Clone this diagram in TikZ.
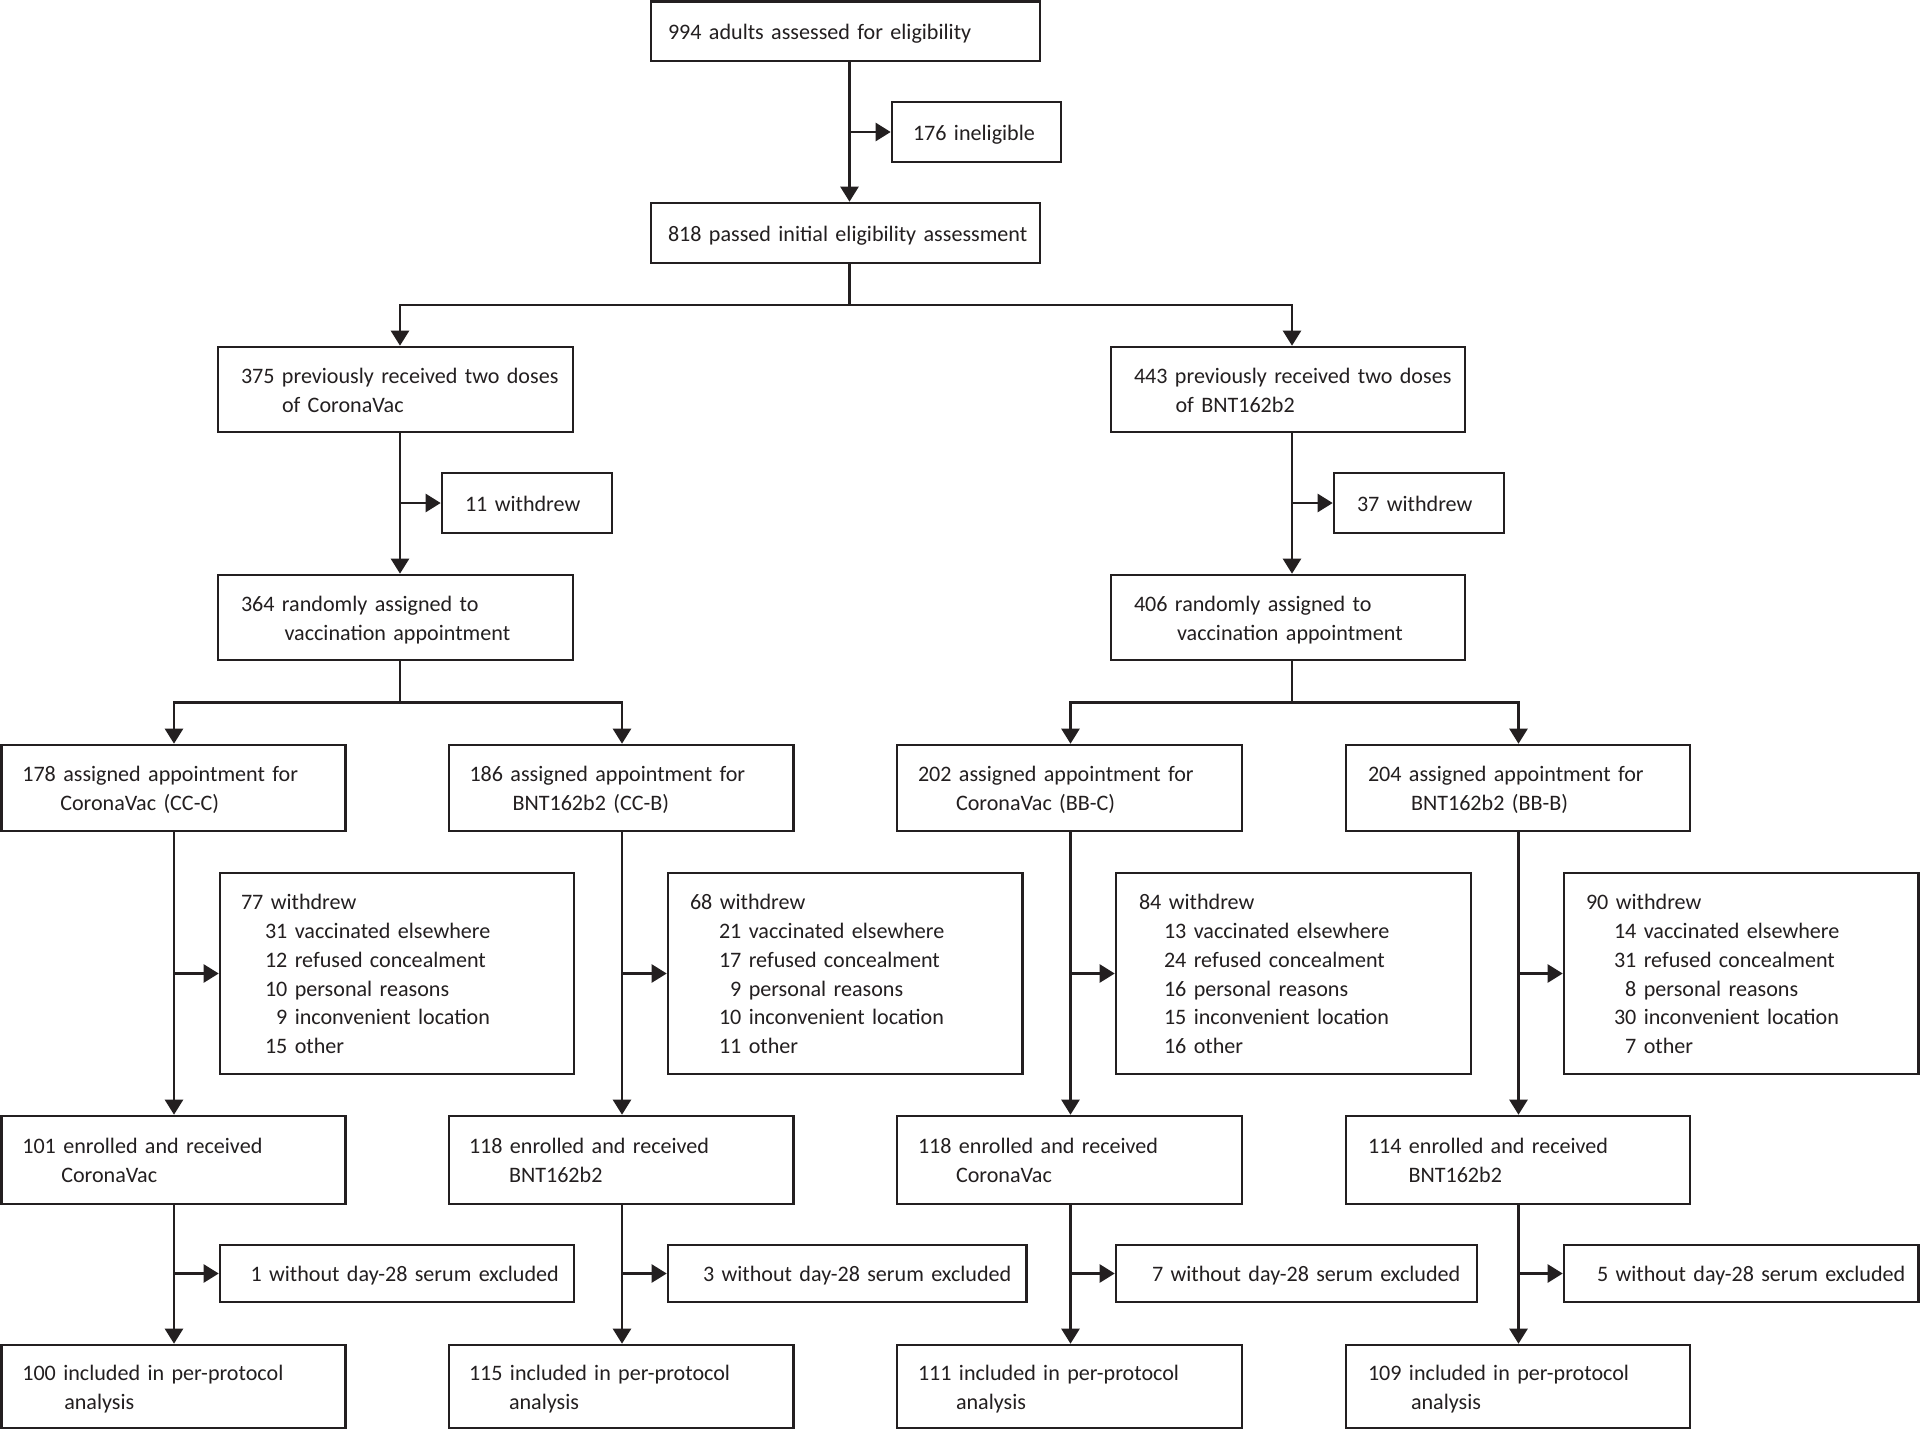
\documentclass[tikz,border=0pt]{standalone}
\usepackage{fontspec}
\setmainfont[WordSpace=0.65]{Carlito}
\usetikzlibrary{arrows.meta}
\definecolor{ink}{RGB}{35,31,32}
\newcommand{\Ln}[2][0]{\hspace*{#1pt}\mbox{\rule[-6.15pt]{0pt}{28.8pt}#2}}
\tikzset{
  bx/.style={draw=ink, line width=2.6pt, inner ysep=0pt, align=left,
    font=\fontsize{22.1}{28.8}\selectfont, text=ink},
  cell/.style n args={5}{bx, at={({(#1+#2)/2},{(#3+#4)/2})},
    minimum width={#2-#1}, minimum height={#4-#3},
    inner xsep={#5}, text width={#2-#1-2*(#5)}},
  arr/.style={draw=ink, line width=2.4pt, -{Triangle[length=15pt,width=18pt]}},
  ln/.style={draw=ink, line width=2.4pt},
}
\begin{document}
\begin{tikzpicture}[x=1pt,y=-1pt]
\fill[white] (0,0) rectangle (1920,1430);
\useasboundingbox (0,0) rectangle (1920,1430);

% top part
\node[cell={651}{1040}{1.5}{61}{17}] (b994) {\Ln{994 adults assessed for eligibility}};
\node[cell={892}{1061}{102}{162}{21}] (b176) {\Ln{176 ineligible}};
\node[cell={651}{1040}{203}{263}{17}] (b818) {\Ln{818 passed initial eligibility assessment}};

\node[cell={218}{573}{347}{432}{23}] (b375) {\Ln{375 previously received two doses}\\\Ln[41]{of CoronaVac}};
\node[cell={1111}{1465}{347}{432}{23}] (b443) {\Ln{443 previously received two doses}\\\Ln[41.5]{of BNT162b2}};
\node[cell={442}{612}{473}{533}{23}] (b11) {\Ln{11 withdrew}};
\node[cell={1334}{1504}{473}{533}{23}] (b37) {\Ln{37 withdrew}};
\node[cell={218}{573}{575}{660}{23}] (b364) {\Ln{364 randomly assigned to}\\\Ln[43.5]{vaccination appointment}};
\node[cell={1111}{1465}{575}{660}{23}] (b406) {\Ln{406 randomly assigned to}\\\Ln[43]{vaccination appointment}};

% level 4
\node[cell={1.3}{345.6}{745}{831}{21}] (b178) {\Ln{178 assigned appointment for}\\\Ln[38]{CoronaVac (CC-C)}};
\node[cell={449}{793.6}{745}{831}{20.5}] (b186) {\Ln{186 assigned appointment for}\\\Ln[43]{BNT162b2 (CC-B)}};
\node[cell={897}{1242}{745}{831}{21}] (b202) {\Ln{202 assigned appointment for}\\\Ln[38]{CoronaVac (BB-C)}};
\node[cell={1346}{1690}{745}{831}{22}] (b204) {\Ln{204 assigned appointment for}\\\Ln[43]{BNT162b2 (BB-B)}};

% withdrew lists
\node[cell={220}{574}{873}{1074}{21}] (w77) {\Ln{77 withdrew}\\\Ln[24]{31 vaccinated elsewhere}\\\Ln[24]{12 refused concealment}\\\Ln[24]{10 personal reasons}\\\Ln[24]{\hphantom{0}9 inconvenient location}\\\Ln[24]{15 other}};
\node[cell={668}{1022.6}{873}{1074}{22}] (w68) {\Ln{68 withdrew}\\\Ln[29]{21 vaccinated elsewhere}\\\Ln[29]{17 refused concealment}\\\Ln[29]{\hphantom{0}9 personal reasons}\\\Ln[29]{10 inconvenient location}\\\Ln[29]{11 other}};
\node[cell={1116}{1471}{873}{1074}{23}] (w84) {\Ln{84 withdrew}\\\Ln[25]{13 vaccinated elsewhere}\\\Ln[25]{24 refused concealment}\\\Ln[25]{16 personal reasons}\\\Ln[25]{15 inconvenient location}\\\Ln[25]{16 other}};
\node[cell={1564}{1918.5}{873}{1074}{22}] (w90) {\Ln{90 withdrew}\\\Ln[28]{14 vaccinated elsewhere}\\\Ln[28]{31 refused concealment}\\\Ln[28]{\hphantom{0}8 personal reasons}\\\Ln[28]{30 inconvenient location}\\\Ln[28]{\hphantom{0}7 other}};

% enrolled
\node[cell={1.3}{345.6}{1116}{1204}{21}] (e101) {\Ln{101 enrolled and received}\\\Ln[39]{CoronaVac}};
\node[cell={449}{793.6}{1116}{1204}{20}] (e118a) {\Ln{118 enrolled and received}\\\Ln[40]{BNT162b2}};
\node[cell={897}{1242}{1116}{1204}{21}] (e118b) {\Ln{118 enrolled and received}\\\Ln[38]{CoronaVac}};
\node[cell={1346}{1690}{1116}{1204}{22}] (e114) {\Ln{114 enrolled and received}\\\Ln[40.5]{BNT162b2}};

% excluded
\node[cell={220}{574}{1245}{1302}{30.5}] (x1) {\Ln{1 without day-28 serum excluded}};
\node[cell={668}{1026.5}{1245}{1302}{35}] (x3) {\Ln{3 without day-28 serum excluded}};
\node[cell={1116}{1477}{1245}{1302}{36}] (x7) {\Ln{7 without day-28 serum excluded}};
\node[cell={1564}{1918.6}{1245}{1302}{33}] (x5) {\Ln{5 without day-28 serum excluded}};

% final
\node[cell={1.3}{345.6}{1345}{1428}{21}] (f100) {\Ln{100 included in per-protocol}\\\Ln[42]{analysis}};
\node[cell={449}{793.6}{1345}{1428}{20}] (f115) {\Ln{115 included in per-protocol}\\\Ln[40]{analysis}};
\node[cell={897}{1242}{1345}{1428}{21}] (f111) {\Ln{111 included in per-protocol}\\\Ln[38]{analysis}};
\node[cell={1346}{1690}{1345}{1428}{22}] (f109) {\Ln{109 included in per-protocol}\\\Ln[43]{analysis}};

% routing coordinates
\coordinate (c0) at (849.5,305);
\coordinate (cL) at (400,702.5);
\coordinate (cR) at (1292,702.5);
\coordinate (k1) at (174,0);
\coordinate (k2) at (622,0);
\coordinate (k3) at (1070.5,0);
\coordinate (k4) at (1518.5,0);

% connectors
\draw[arr] (b994.south -| c0) -- (b818.north -| c0);
\draw[arr] (c0 |- b176.west) -- (b176.west);
\draw[ln] (b818.south -| c0) -- (c0);
\draw[arr] (c0) -| (b375.north -| cL);
\draw[arr] (c0) -| (b443.north -| cR);

\draw[arr] (b375.south -| cL) -- (b364.north -| cL);
\draw[arr] (cL |- b11.west) -- (b11.west);
\draw[arr] (b443.south -| cR) -- (b406.north -| cR);
\draw[arr] (cR |- b37.west) -- (b37.west);

\draw[ln] (b364.south -| cL) -- (cL);
\draw[arr] (cL) -| (b178.north -| k1);
\draw[arr] (cL) -| (b186.north -| k2);
\draw[ln] (b406.south -| cR) -- (cR);
\draw[arr] (cR) -| (b202.north -| k3);
\draw[arr] (cR) -| (b204.north -| k4);

\foreach \k/\a/\w/\e/\x/\f in {k1/b178/w77/e101/x1/f100, k2/b186/w68/e118a/x3/f115, k3/b202/w84/e118b/x7/f111, k4/b204/w90/e114/x5/f109}{
  \draw[arr] (\a.south -| \k) -- (\e.north -| \k);
  \draw[arr] (\k |- \w.west) -- (\w.west);
  \draw[arr] (\e.south -| \k) -- (\f.north -| \k);
  \draw[arr] (\k |- \x.west) -- (\x.west);
}
\end{tikzpicture}
\end{document}
